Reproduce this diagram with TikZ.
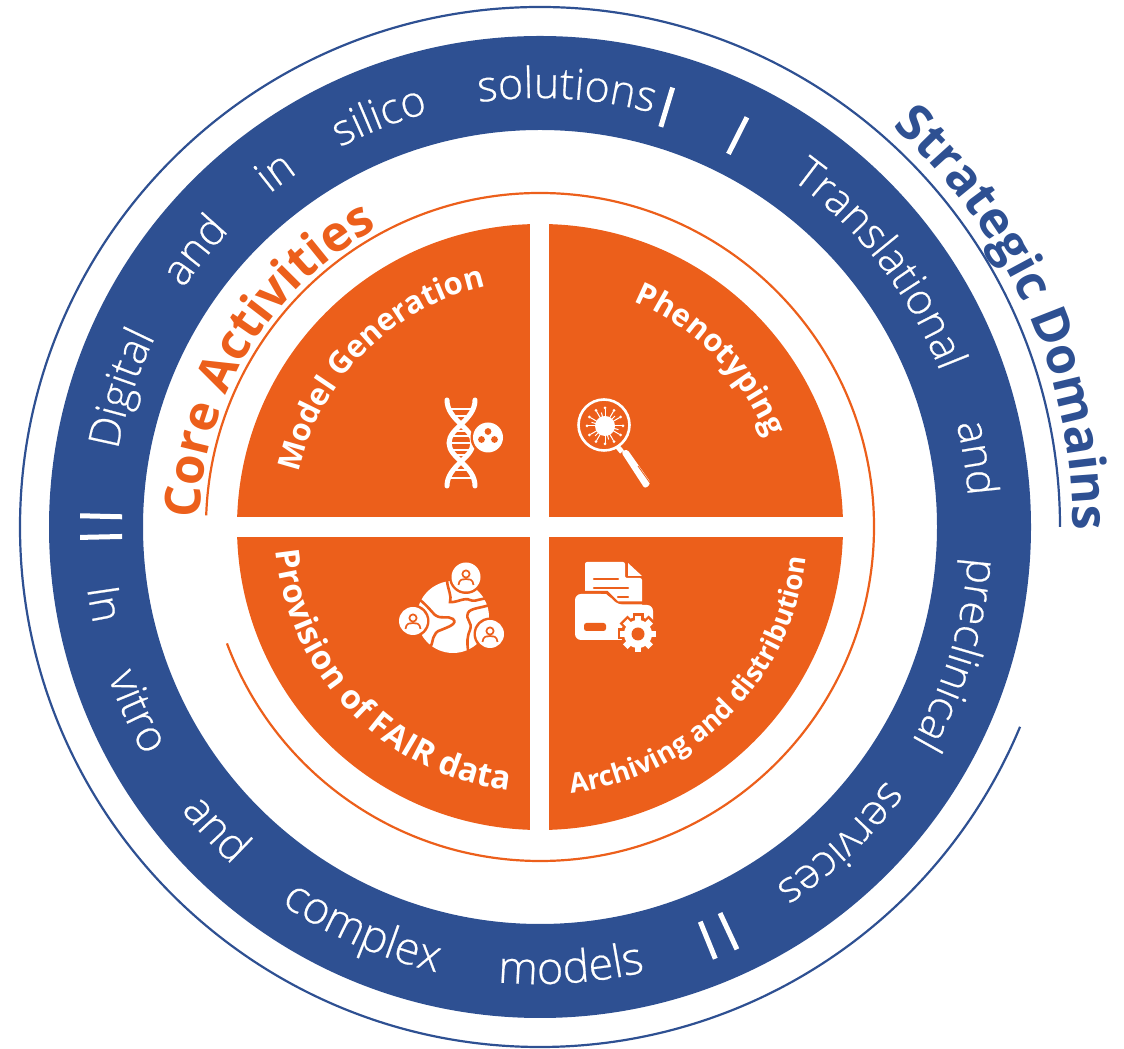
\documentclass[tikz,border=0pt]{standalone}
\usepackage{fontspec}
\setmainfont{Open Sans}
\newfontfamily\lightface[FakeBold=0.5]{Open Sans Light}
\usetikzlibrary{decorations.text}
\definecolor{ringblue}{HTML}{2E5092}
\definecolor{coreorange}{HTML}{EC5F1B}
\newcommand{\curveword}[5]{% radius, centre angle, text, colour, size
  \path[decorate,decoration={text along path,text align=center,text color=#4,
    text={|\lightface\fontsize{#5}{#5}\selectfont|#3}}]
    (#2+90:#1) arc[start angle=#2+90,end angle=#2-90,radius=#1];}
\newcommand{\ccwword}[5]{%
  \path[decorate,decoration={text along path,text align=center,text color=#4,
    text={|\lightface\fontsize{#5}{#5}\selectfont|#3}}]
    (#2-90:#1) arc[start angle=#2-90,end angle=#2+90,radius=#1];}
\newcommand{\curvebold}[5]{%
  \path[decorate,decoration={text along path,text align=center,text color=#4,
    text={|\bfseries\fontsize{#5}{#5}\selectfont|#3}}]
    (#2+90:#1) arc[start angle=#2+90,end angle=#2-90,radius=#1];}
\newcommand{\ccwbold}[5]{%
  \path[decorate,decoration={text along path,text align=center,text color=#4,
    text={|\bfseries\fontsize{#5}{#5}\selectfont|#3}}]
    (#2-90:#1) arc[start angle=#2-90,end angle=#2+90,radius=#1];}
\tikzset{
  sepbar/.style={draw=white,line width=5pt},
  thinblue/.style={draw=ringblue,line width=2.2pt},
  thinorange/.style={draw=coreorange,line width=2.2pt},
  strand/.style={draw=white,line width=5pt,line cap=round},
  rung/.style={draw=white,line width=2.6pt},
  mapline/.style={draw=coreorange,line width=2.6pt,line cap=round},
}
\begin{document}
\begin{tikzpicture}[x=1pt,y=1pt]
\useasboundingbox (0,0) rectangle (1124,1049);
\begin{scope}[shift={(540,522)}]
  % ring
  \fill[ringblue,even odd rule] (0,0) circle[radius=491pt] (0,0) circle[radius=397pt];
  % thin arcs
  \draw[thinblue] (0:520) arc[start angle=0,end angle=337.4,radius=520pt];
  \draw[thinorange] (178:334) arc[start angle=178,end angle=-159.6,radius=334pt];
  % quadrants
  \begin{scope}
    \clip (0,0) circle[radius=303pt];
    \fill[coreorange] (-10,10) rectangle (-310,310);
    \fill[coreorange] (9,10) rectangle (310,310);
    \fill[coreorange] (-10,-10) rectangle (-310,-310);
    \fill[coreorange] (9,-10) rectangle (310,-310);
  \end{scope}
  % separators
  \draw[sepbar] (73.2:418) -- (73.2:459);
  \draw[sepbar] (63.2:418) -- (63.2:459);
  \draw[sepbar] (178.6:418) -- (178.6:460);
  \draw[sepbar] (181.3:418) -- (181.3:460);
  \draw[sepbar] (-65:426) -- (-65:466);
  \draw[sepbar] (-67.9:426) -- (-67.9:466);
  % ring words
  \curveword{429}{161.7}{Digital}{white}{43}
  \curveword{429}{141.3}{and}{white}{43}
  \curveword{429}{126.7}{in}{white}{43}
  \curveword{429}{111.4}{silico}{white}{43}
  \curveword{429}{86.5}{solutions}{white}{43}
  \curveword{429}{37.7}{Translational}{white}{43}
  \curveword{429}{9}{and}{white}{43}
  \curveword{429}{-17}{preclinical}{white}{43}
  \curveword{429}{-46.5}{services}{white}{43}
  \ccwword{457}{-86}{models}{white}{45}
  \ccwword{457}{246.2}{complex}{white}{45}
  \ccwword{457}{223}{and}{white}{44}
  \ccwword{457}{204.6}{vitro}{white}{44}
  \ccwword{457}{190}{In}{white}{44}
  % titles
  \curvebold{533}{24.2}{Strategic Domains}{ringblue}{50}
  \curvebold{340}{148.6}{Core Activities}{coreorange}{49.5}
  % quadrant labels
  \curvebold{247}{135}{Model Generation}{white}{31}
  \curvebold{244}{44.5}{Phenotyping}{white}{31}
  \ccwbold{265}{224.2}{Provision of FAIR data}{white}{33}
  \ccwbold{268}{-45}{Archiving and distribution}{white}{27.5}
\end{scope}
% icons in image pixel coordinates
\begin{scope}[shift={(0,1049)},yscale=-1]
  % DNA
  \draw[strand] (447,400) .. controls (447,420) and (473,428) .. (473,443) .. controls (473,458) and (447,466) .. (447,486);
  \draw[strand] (475,400) .. controls (475,420) and (449,428) .. (449,443) .. controls (449,458) and (475,466) .. (475,486);
  \foreach \yy/\xa/\xb in {409/450/472,416/452/470,431/455/468,436/451/471,443/449/473,450/451/471,455/455/467,470/452/470,478/450/472}
    \draw[rung] (\xa,\yy) -- (\xb,\yy);
  \fill[coreorange] (488,437.5) circle[radius=17.5pt];
  \fill[white] (488,437.5) circle[radius=15pt];
  \fill[coreorange] (488,431.5) circle[radius=3.4pt] (481.5,439.5) circle[radius=3.4pt] (494.5,439.5) circle[radius=3.4pt];
  % magnifier
  \draw[white,line width=2.6pt] (604,425) circle[radius=25.5pt];
  \fill[white] (605,426) circle[radius=10pt];
  \foreach \an in {0,30,...,330}{
    \draw[white,line width=1pt] (605,426) -- ++(\an:17pt);
    \fill[white] (605,426) ++(\an:18pt) circle[radius=1.5pt];
  }
  \foreach \an in {15,75,...,315}
    \draw[white,line width=1pt] (605,426) -- ++(\an:14pt);
  \draw[white,line width=5pt] (617,446) -- (622,452);
  \fill[white,rounded corners=3pt] (621,452) -- (627,449) -- (651,483) -- (645,489) -- cycle;
  \draw[coreorange,line width=.8pt] (638,466) -- (650,483);
  % globe
  \fill[white] (453,617) circle[radius=36pt];
  \draw[mapline] (447,581) .. controls (448,590) and (452,596) .. (450,602) .. controls (456,603) and (465,597) .. (470,600) .. controls (477,603) and (482,596) .. (488,600);
  \draw[mapline] (417,598) .. controls (425,603) and (430,610) .. (435,615) .. controls (442,620) and (447,615) .. (453,619) .. controls (458,624) and (448,627) .. (441,630) .. controls (432,632) and (433,643) .. (431,646);
  \draw[mapline] (489,605) .. controls (482,608) and (470,608) .. (468,613) .. controls (465,620) and (473,622) .. (470,630) .. controls (467,637) and (467,642) .. (468,650);
  \foreach \cx/\cy/\cr in {466/577/14.5,413/621/14,490/634/14}{
    \fill[coreorange] (\cx,\cy) circle[radius=\cr pt+2.5pt];
    \fill[white] (\cx,\cy) circle[radius=\cr pt];
    \draw[coreorange,line width=1.7pt] (\cx,\cy-3) circle[radius=3.6pt];
    \draw[coreorange,line width=1.7pt] (\cx-7.5,\cy+8) .. controls (\cx-7,\cy+2) and (\cx-3,\cy+2) .. (\cx,\cy+2) .. controls (\cx+3,\cy+2) and (\cx+7,\cy+2) .. (\cx+7.5,\cy+8);
  }
  % document and folder
  \fill[white,rounded corners=2pt] (585,562) -- (625,562) -- (625,578) -- (642,578) -- (642,610) -- (585,610) -- cycle;
  \fill[white] (628,563) -- (642,576) -- (628,576) -- cycle;
  \draw[coreorange,line width=2.2pt,line cap=round] (594,579) -- (618,579) (594,588) -- (628,588) (618,597) -- (628,597);
  \draw[coreorange,line width=3pt] (572,592.5) -- (607,592.5) -- (617.5,603) -- (656,603);
  \fill[white,rounded corners=6pt] (575,594) -- (607,594) -- (618,605) -- (653,605) -- (653,640) -- (575,640) -- cycle;
  \fill[coreorange,rounded corners=2.5pt] (584,623) rectangle (606,631);
  \foreach \an in {0,45,...,315}
    \draw[coreorange,line width=11pt] (638,634) -- ++(\an:20.5pt);
  \fill[coreorange] (638,634) circle[radius=17pt];
  \foreach \an in {0,45,...,315}
    \draw[white,line width=6.5pt] (638,634) -- ++(\an:18pt);
  \fill[white] (638,634) circle[radius=14pt];
  \fill[coreorange] (638,634) circle[radius=6.5pt];
\end{scope}
\end{tikzpicture}
\end{document}
